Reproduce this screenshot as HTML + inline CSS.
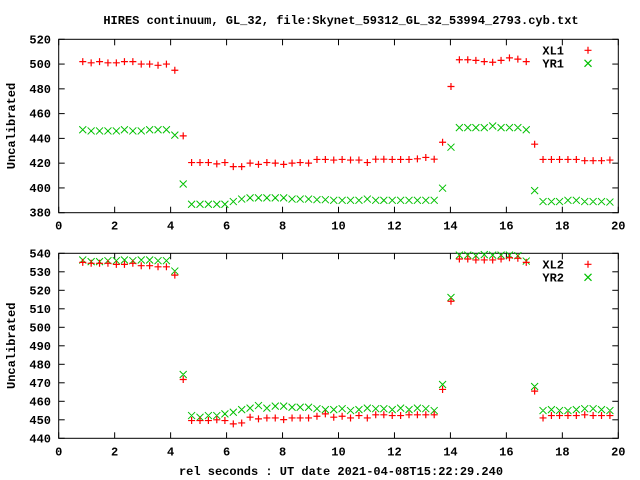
<!DOCTYPE html>
<html><head><meta charset="utf-8"><style>
body{margin:0;background:#fff}
svg{display:block;font-family:"Liberation Mono",monospace;font-weight:bold;font-size:12px}
</style></head><body>
<svg id="c" width="640" height="480" xmlns="http://www.w3.org/2000/svg">
<rect width="640" height="480" fill="#fff"/>
<text x="341" y="24" text-anchor="middle">HIRES continuum, GL_32, file:Skynet_59312_GL_32_53994_2793.cyb.txt</text>
<text x="341" y="475" text-anchor="middle">rel seconds : UT date 2021-04-08T15:22:29.240</text>
</svg>
<script>
const times=[0.86,1.16,1.46,1.76,2.06,2.35,2.65,2.95,3.25,3.55,3.85,4.15,4.45,4.75,5.05,5.35,5.65,5.94,6.24,6.54,6.84,7.14,7.44,7.74,8.04,8.34,8.63,8.93,9.23,9.53,9.83,10.13,10.43,10.73,11.03,11.33,11.62,11.92,12.22,12.52,12.82,13.12,13.42,13.72,14.02,14.32,14.62,14.91,15.21,15.51,15.81,16.11,16.41,16.71,17.01,17.31,17.61,17.9,18.2,18.5,18.8,19.1,19.4,19.7];
const xl1=[502,501,502,501,501,502,502,500,500,499,500,495,442,420.5,420.5,420.5,419.4,420.5,417.2,417.2,420,419,420.5,420,419,420,420.5,420,423,423,422.5,423,422.5,422.5,420.5,423.2,423.2,423,423,423,423.5,424.6,423.2,436.9,481.9,503.5,503.5,503,502,501.5,503,505,504,502,435.3,423,423,423,423,423,422,422,422,422.5];
const yr1=[447,446,446,446,446,447,446,446,447,447,447,442.6,403.2,386.8,386.8,386.8,386.8,386.8,389,391,392,392,392,392,392,391,391,391,390.5,390.5,390,390,390,390,391,390,390,390,390,390,390,390,390,399.8,432.9,448.7,448.7,448.7,448.7,450,448.7,448.7,448.7,447,397.8,389,389,389,390,390,389,389,389,388.6];
const xl2=[535.1,534.6,534.6,534.6,534,534,534.6,533.3,533.3,532.7,532.7,528.2,471.8,449.6,449.6,449.6,450,449.6,447.8,448.3,451.4,450.5,451,451,450.1,451,451,451,451.9,453.2,451.4,451.9,451,452.3,451,452.7,452.7,452.3,452.3,452.7,452.7,452.7,452.7,466.4,514.1,536.9,536.9,536.4,536.4,536.4,536.9,537.6,537.3,535.1,465.5,451,452.3,452.3,452.3,452.3,452.7,452.3,452.3,452.3];
const yr2=[536.4,535.5,535.5,536,536,536.4,536,536.4,536.4,536,536,530.4,474.5,452.3,451.4,452.3,452.3,453.2,454.1,455.5,456.3,457.7,456.3,457.4,457.4,456.8,456.8,456.8,456,455.5,455.5,456,455,455.5,456.3,456,456,455.5,456.3,455.5,456.3,456,455,469.1,516.1,539,539,538.7,539.3,539,539,539,538.7,535.8,468,455,455.5,455,455,455.5,456,456,455.5,455];
const xTicks=[0,2,4,6,8,10,12,14,16,18,20];
const yTicksTop=[380,400,420,440,460,480,500,520];
const yTicksBot=[440,450,460,470,480,490,500,510,520,530,540];
const NS="http://www.w3.org/2000/svg";
const svg=document.getElementById('c');
function mk(t,a){const e=document.createElementNS(NS,t);for(const k in a)e.setAttribute(k,a[k]);svg.appendChild(e);return e;}
const L=58.7,R=618.3;
const xs=v=>L+(v-0)/(20-0)*(R-L);
function panel(top,bot,ymin,ymax,yt,s1,s2,n1,n2,key){
  const ys=v=>bot-(v-ymin)/(ymax-ymin)*(bot-top);
  const fr=mk('rect',{x:L,y:top,width:R-L,height:bot-top,fill:'none',stroke:'#000','stroke-width':1});
  
  
  yt.forEach(v=>{const y=ys(v);
    mk('line',{x1:L,x2:L+6,y1:y,y2:y,stroke:'#000'});mk('line',{x1:R,x2:R-6,y1:y,y2:y,stroke:'#000'});
    const t=mk('text',{x:51,y:y+4,'text-anchor':'end'});t.textContent=v;
    
    });
  xTicks.forEach(v=>{const x=xs(v);
    mk('line',{x1:x,x2:x,y1:bot,y2:bot-6,stroke:'#000'});mk('line',{x1:x,x2:x,y1:top,y2:top+6,stroke:'#000'});
    const t=mk('text',{x:x,y:bot+17,'text-anchor':'middle'});t.textContent=v;
    
    });
  const yl=mk('text',{x:0,y:0,'text-anchor':'middle',transform:`translate(15,${(top+bot)/2}) rotate(-90)`});yl.textContent='Uncalibrated';
  
  
  const plus=(x,y,c)=>`M${x-3.5},${y}H${x+3.5}M${x},${y-3.5}V${y+3.5}`;
  const cross=(x,y)=>`M${x-3.5},${y-3.5}L${x+3.5},${y+3.5}M${x-3.5},${y+3.5}L${x+3.5},${y-3.5}`;
  let d1='',d2='';
  times.forEach((t,i)=>{d1+=plus(xs(t),ys(s1[i]));d2+=cross(xs(t),ys(s2[i]));});
  const p2=mk('path',{d:d2,stroke:'#00c000','stroke-width':1,fill:'none'});
  
  
  const p1=mk('path',{d:d1,stroke:'#ff0000','stroke-width':1.2,fill:'none'});
  
  
  [[n1,'#ff0000',plus],[n2,'#00c000',cross]].forEach((k,j)=>{const y=top+11+j*13;
    const t=mk('text',{x:564,y:y+4,'text-anchor':'end'});t.textContent=k[0];
    
    
    mk('path',{d:k[2](588,y),stroke:k[1],fill:'none','stroke-width':1.2});});
}
panel(39.3,212.7,380,520,yTicksTop,xl1,yr1,'XL1','YR1','top');
panel(253.3,438.3,440,540,yTicksBot,xl2,yr2,'XL2','YR2','bottom');
</script>
</body></html>
